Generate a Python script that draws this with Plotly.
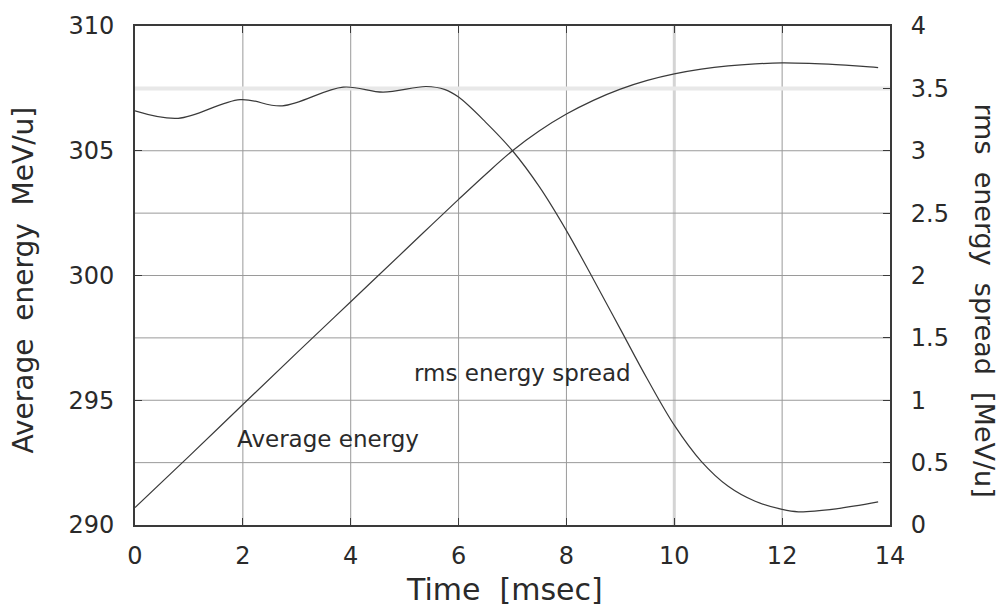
import plotly.graph_objects as go

# ---- data ----
t_avg = [0.0, 1.0, 2.0, 3.0, 4.0, 5.0, 5.5, 6.0, 6.5, 7.0, 7.5, 8.0, 8.5, 9.0,
         9.5, 10.0, 10.5, 11.0, 11.5, 12.0, 12.5, 13.0, 13.5, 13.78]
avg_energy = [290.7, 292.75, 294.83, 296.9, 298.95, 301.0, 302.03, 303.05, 304.05,
              305.0, 305.8, 306.47, 307.02, 307.47, 307.82, 308.08, 308.27, 308.4,
              308.48, 308.52, 308.5, 308.45, 308.38, 308.33]

t_rms = [0.0, 0.8, 1.95, 2.73, 3.86, 4.6, 5.4, 5.75, 6.0, 6.5, 7.0, 7.5, 8.0, 8.5,
         9.0, 9.5, 10.0, 10.5, 11.0, 11.5, 12.0, 12.3, 13.0, 13.78]
rms_spread = [3.32, 3.26, 3.41, 3.36, 3.51, 3.47, 3.515, 3.49, 3.43, 3.23, 3.0,
              2.71, 2.36, 1.97, 1.57, 1.17, 0.80, 0.51, 0.31, 0.19, 0.125, 0.106,
              0.13, 0.185]

x_ticks = [0, 2, 4, 6, 8, 10, 12, 14]
left_ticks = [290, 295, 300, 305, 310]
right_ticks = [0, 0.5, 1, 1.5, 2, 2.5, 3, 3.5, 4]
right_labels = ["0", "0.5", "1", "1.5", "2", "2.5", "3", "3.5", "4"]
light_x_grid = [10]      # grid lines that look pale/wide in the original
light_y2_grid = [3.5]

FONT = "DejaVu Sans"
TXT = "#2a2a2a"
LINE = "#3a3a3a"
GRID = "#9a9a9a"

fig = go.Figure()
fig.add_trace(go.Scatter(x=t_avg, y=avg_energy, mode="lines", yaxis="y",
                         line=dict(color=LINE, width=1.2, shape="spline"),
                         showlegend=False))
fig.add_trace(go.Scatter(x=t_rms, y=rms_spread, mode="lines", yaxis="y2",
                         line=dict(color=LINE, width=1.2, shape="spline"),
                         showlegend=False))

# grid lines drawn from the tick lists (below the traces)
shapes = []
for v in x_ticks[1:-1]:
    pale = v in light_x_grid
    shapes.append(dict(type="line", xref="x", yref="paper", x0=v, x1=v, y0=0, y1=1,
                       line=dict(color="#d4d4d4" if pale else GRID,
                                 width=3 if pale else 1), layer="below"))
for v in right_ticks[1:-1]:
    pale = v in light_y2_grid
    shapes.append(dict(type="line", xref="paper", yref="y2", x0=0, x1=1, y0=v, y1=v,
                       line=dict(color="#e8e8e8" if pale else GRID,
                                 width=4 if pale else 1), layer="below"))

fig.update_layout(
    width=1006, height=609,
    margin=dict(l=135, r=116, t=22, b=84),
    paper_bgcolor="white", plot_bgcolor="white",
    font=dict(family=FONT, color=TXT, size=24),
    xaxis=dict(range=[0, 14], tickvals=x_ticks, showgrid=False,
               zeroline=False, showline=True, linecolor=LINE,
               linewidth=2, mirror="ticks", ticks="inside", ticklen=7,
               tickcolor=LINE, tickfont=dict(size=24), ticklabelstandoff=8),
    yaxis=dict(range=[290, 310], tickvals=left_ticks, showgrid=False,
               zeroline=False, showline=True, linecolor=LINE, linewidth=2,
               mirror=True, ticks="inside", ticklen=7, tickcolor=LINE,
               tickfont=dict(size=24), ticklabelstandoff=14),
    yaxis2=dict(range=[0, 4], tickvals=right_ticks, ticktext=right_labels,
                overlaying="y", side="right", showgrid=False,
                zeroline=False, showline=True, linecolor=LINE,
                linewidth=2, ticks="inside", ticklen=7, tickcolor=LINE,
                tickfont=dict(size=24), ticklabelstandoff=14),
    annotations=[
        dict(x=7.18, y=296.08, xref="x", yref="y", text="rms energy spread",
             showarrow=False, font=dict(size=23, color=TXT)),
        dict(x=3.58, y=293.46, xref="x", yref="y", text="Average energy",
             showarrow=False, font=dict(size=23, color=TXT)),
        # axis titles
        dict(x=0.49, y=-0.13, xref="paper", yref="paper",
             text="Time  [msec]", showarrow=False, xanchor="center",
             yanchor="middle", font=dict(size=30, color=TXT)),
        dict(x=-0.1483, y=0.49, xref="paper", yref="paper",
             text="Average  energy  MeV/u]", showarrow=False, textangle=-90,
             xanchor="center", yanchor="middle", font=dict(size=28, color=TXT)),
        dict(x=1.1258, y=0.45, xref="paper", yref="paper",
             text="rms  energy  spread  [MeV/u]", showarrow=False, textangle=90,
             xanchor="center", yanchor="middle", font=dict(size=27, color=TXT)),
    ],
    shapes=shapes,
)

fig.write_html("out.html")
